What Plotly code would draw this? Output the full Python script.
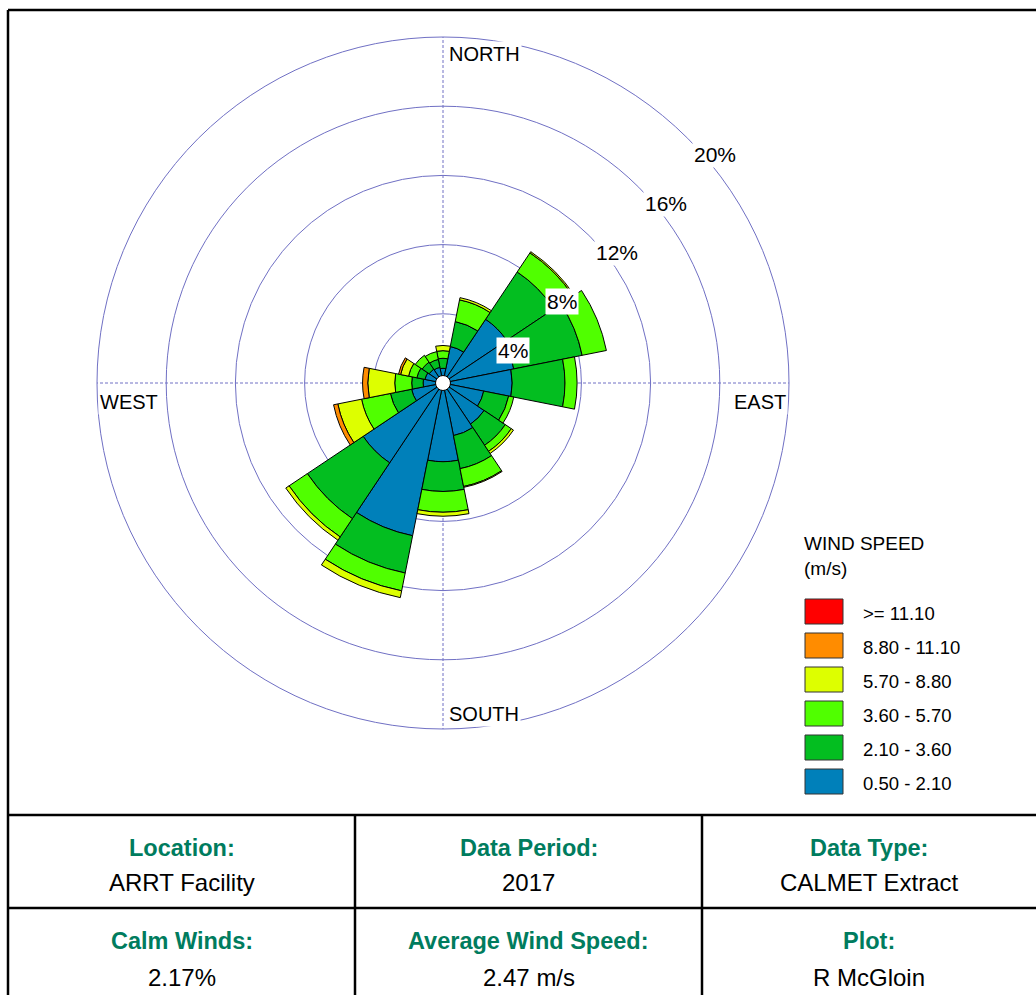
import plotly.graph_objects as go

# ---------------- data ----------------
directions = ["N", "NNE", "NE", "ENE", "E", "ESE", "SE", "SSE",
              "S", "SSW", "SW", "WSW", "W", "WNW", "NW", "NNW"]
direction_deg = [0, 22.5, 45, 67.5, 90, 112.5, 135, 157.5,
                 180, 202.5, 225, 247.5, 270, 292.5, 315, 337.5]

speed_bins = ["0.50 - 2.10", "2.10 - 3.60", "3.60 - 5.70",
              "5.70 - 8.80", "8.80 - 11.10", ">= 11.10"]
bin_colors = ["#0080BA", "#03BE20", "#50FF00", "#DDFF00", "#FF8C00", "#FF0000"]

# frequency (%) per direction for each wind-speed class
freq_0p50_2p10 = [0.85, 2.15, 4.43, 4.17, 4.00, 2.40, 2.86, 3.10,
                  4.55, 9.00, 5.55, 1.85, 1.15, 1.06, 0.96, 0.92]
freq_2p10_3p60 = [0.58, 1.47, 3.29, 4.03, 3.05, 1.47, 1.47, 1.95,
                  1.72, 2.20, 3.88, 1.25, 0.66, 0.48, 0.49, 0.47]
freq_3p60_5p70 = [0.44, 1.28, 1.33, 1.43, 0.70, 0.30, 0.42, 1.05,
                  1.20, 1.05, 1.27, 1.70, 0.98, 0.49, 0.48, 0.46]
freq_5p70_8p80 = [0.30, 0.13, 0.08, 0.00, 0.00, 0.00, 0.15, 0.05,
                  0.23, 0.40, 0.23, 1.40, 1.56, 0.47, 0.00, 0.00]
freq_8p80_11p10 = [0.00, 0.00, 0.00, 0.00, 0.00, 0.00, 0.00, 0.00,
                   0.00, 0.00, 0.00, 0.25, 0.30, 0.12, 0.00, 0.00]
freq_ge_11p10 = [0.00, 0.00, 0.00, 0.00, 0.00, 0.00, 0.00, 0.00,
                 0.00, 0.00, 0.00, 0.00, 0.00, 0.00, 0.00, 0.00]
series = [freq_0p50_2p10, freq_2p10_3p60, freq_3p60_5p70,
          freq_5p70_8p80, freq_8p80_11p10, freq_ge_11p10]

ring_ticks = [4, 8, 12, 16, 20]
ring_labels = ["4%", "8%", "12%", "16%", "20%"]
compass = [("NORTH", 0), ("EAST", 90), ("SOUTH", 180), ("WEST", 270)]

info_labels = [["Location:", "Data Period:", "Data Type:"],
               ["Calm Winds:", "Average Wind Speed:", "Plot:"]]
info_values = [["ARRT Facility", "2017", "CALMET Extract"],
               ["2.17%", "2.47 m/s", "R McGloin"]]

# ---------------- layout geometry ----------------
W, H = 1036, 995
CX, CY, R = 443, 383, 346          # rose centre and outer radius (px)
RMAX = 20
FONT = "Arial, Liberation Sans, sans-serif"
GRID = "#7070C4"
TEAL = "#007C5E"


def px(x):
    return x / W


def py(y):
    return 1 - y / H


fig = go.Figure()

for vals, name, col in zip(series, speed_bins, bin_colors):
    fig.add_trace(go.Barpolar(
        r=vals, theta=direction_deg, width=[22.5] * len(vals), name=name,
        marker=dict(color=col, line=dict(color="black", width=1)),
        showlegend=False, hoverinfo="skip"))

# calm circle at the centre
fig.add_trace(go.Scatterpolar(
    r=[0], theta=[0], mode="markers", showlegend=False, hoverinfo="skip",
    marker=dict(size=15, color="white", line=dict(color="black", width=1))))

fig.update_layout(
    width=W, height=H, margin=dict(l=0, r=0, t=0, b=0),
    paper_bgcolor="white", plot_bgcolor="white",
    font=dict(family=FONT, color="black"),
    polar=dict(
        domain=dict(x=[px(CX - R), px(CX + R)], y=[py(CY + R), py(CY - R)]),
        bgcolor="white", barmode="stack", bargap=0,
        radialaxis=dict(range=[0, RMAX], tickvals=ring_ticks[:-1],
                        showticklabels=False, ticks="", showline=False,
                        gridcolor=GRID, gridwidth=1),
        angularaxis=dict(direction="clockwise", rotation=90,
                         tickvals=[0, 90, 180, 270], showticklabels=False,
                         ticks="", gridcolor=GRID, gridwidth=1,
                         griddash="3px,2px",
                         showline=True, linecolor=GRID, linewidth=1),
    ),
)

annotations = []
# ring labels along the NE diagonal
for v, t in zip(ring_ticks, ring_labels):
    rr = v / RMAX * R
    x0 = CX + rr * 0.70710678
    y0 = CY - rr * 0.70710678
    annotations.append(dict(x=px(x0), y=py(y0), xref="paper", yref="paper",
                            text=t, showarrow=False, xanchor="left",
                            yanchor="top", xshift=4, yshift=-3,
                            bgcolor="white", borderpad=1,
                            font=dict(size=21, family=FONT)))

# compass labels inside the outer ring
for name, ang in compass:
    if ang == 0:
        a = dict(x=px(CX), y=py(CY - R), xanchor="left", yanchor="top",
                 xshift=4, yshift=-4)
    elif ang == 180:
        a = dict(x=px(CX), y=py(CY + R), xanchor="left", yanchor="bottom",
                 xshift=4, yshift=2)
    elif ang == 90:
        a = dict(x=px(CX + R), y=py(CY), xanchor="right", yanchor="top",
                 xshift=-1, yshift=-6)
    else:
        a = dict(x=px(CX - R), y=py(CY), xanchor="left", yanchor="top",
                 xshift=1, yshift=-6)
    a.update(xref="paper", yref="paper", text=name, showarrow=False,
             bgcolor="white", borderpad=1, font=dict(size=20, family=FONT))
    annotations.append(a)

# legend
annotations.append(dict(x=px(802), y=py(531), xref="paper", yref="paper",
                        text="WIND SPEED<br>(m/s)", showarrow=False,
                        xanchor="left", yanchor="top", align="left",
                        font=dict(size=19, family=FONT)))
shapes = []
legend_order = list(zip(speed_bins, bin_colors))[::-1]
for i, (name, col) in enumerate(legend_order):
    top = 599 + 34 * i
    shapes.append(dict(type="rect", xref="paper", yref="paper",
                       x0=px(805), x1=px(843), y0=py(top), y1=py(top + 25),
                       fillcolor=col, line=dict(color="#333333", width=1)))
    annotations.append(dict(x=px(861), y=py(top + 14), xref="paper",
                            yref="paper", text=name, showarrow=False,
                            xanchor="left", yanchor="middle",
                            font=dict(size=18.5, family=FONT)))

# frame and info table
LW = 2.5
shapes += [
    dict(type="line", xref="paper", yref="paper", x0=px(8), x1=px(1036),
         y0=py(10), y1=py(10), line=dict(color="black", width=LW)),
    dict(type="line", xref="paper", yref="paper", x0=px(8), x1=px(8),
         y0=py(10), y1=py(995), line=dict(color="black", width=LW)),
    dict(type="line", xref="paper", yref="paper", x0=px(8), x1=px(1036),
         y0=py(815), y1=py(815), line=dict(color="black", width=LW)),
    dict(type="line", xref="paper", yref="paper", x0=px(8), x1=px(1036),
         y0=py(908), y1=py(908), line=dict(color="black", width=LW)),
    dict(type="line", xref="paper", yref="paper", x0=px(355), x1=px(355),
         y0=py(815), y1=py(995), line=dict(color="black", width=LW)),
    dict(type="line", xref="paper", yref="paper", x0=px(702), x1=px(702),
         y0=py(815), y1=py(995), line=dict(color="black", width=LW)),
]

col_centres = [181.5, 528.5, 869]
row_label_y = [848, 941]
row_value_y = [882, 977]
for ri in range(2):
    for ci in range(3):
        annotations.append(dict(
            x=px(col_centres[ci]), y=py(row_label_y[ri]), xref="paper",
            yref="paper", text="<b>" + info_labels[ri][ci] + "</b>",
            showarrow=False, xanchor="center", yanchor="middle",
            font=dict(size=23.5, family=FONT, color=TEAL)))
        annotations.append(dict(
            x=px(col_centres[ci]), y=py(row_value_y[ri]), xref="paper",
            yref="paper", text=info_values[ri][ci],
            showarrow=False, xanchor="center", yanchor="middle",
            font=dict(size=24, family=FONT, color="black")))

fig.update_layout(annotations=annotations, shapes=shapes)

fig.write_html("out.html", config={"displayModeBar": False},
               post_script="document.body.style.margin='0';"
                           "document.body.style.overflow='hidden';")
